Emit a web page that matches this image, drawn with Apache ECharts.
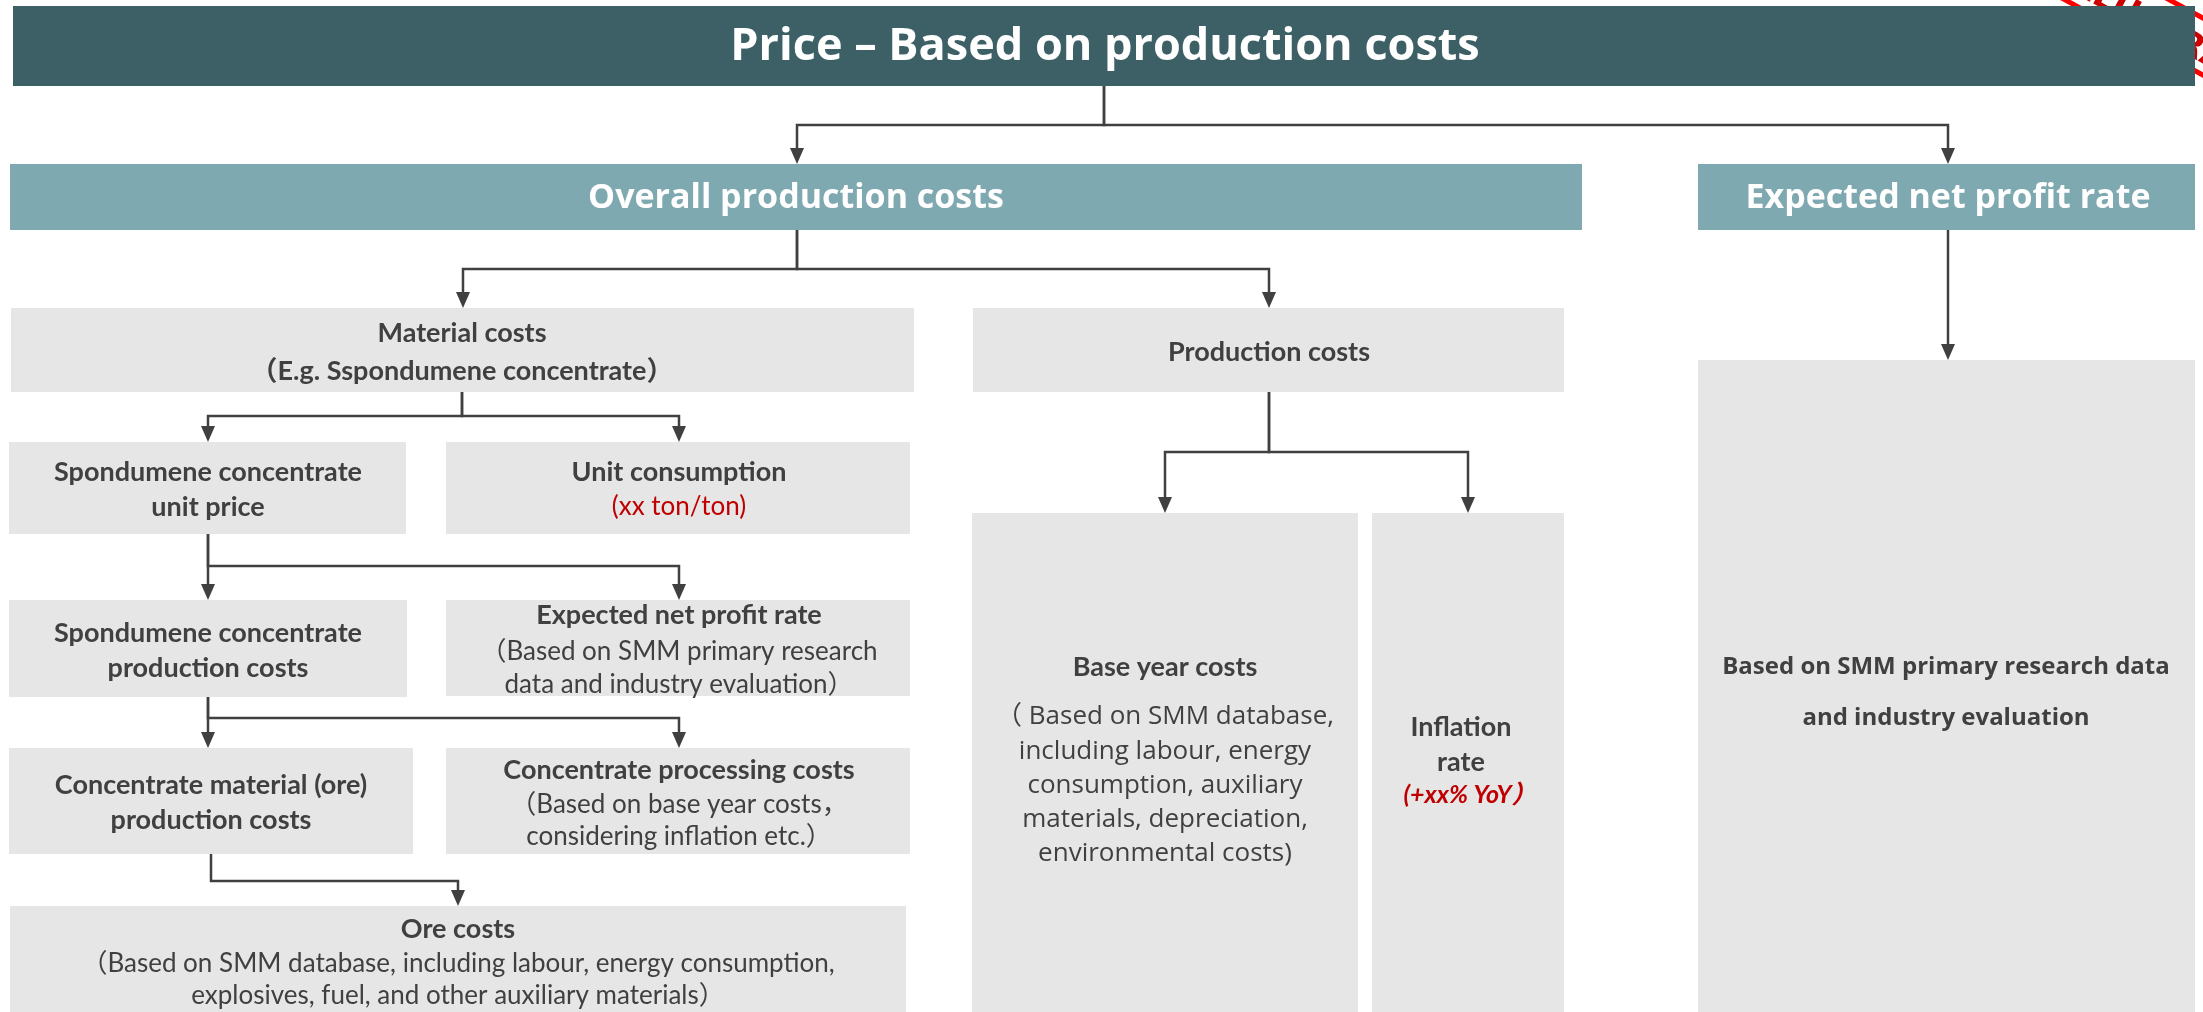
<!DOCTYPE html>
<html>
<head>
<meta charset="utf-8">
<script src="https://cdn.jsdelivr.net/npm/echarts@6/dist/echarts.min.js"></script>
<style>
  html, body { margin: 0; padding: 0; background: #fff; }
  #chart { width: 2203px; height: 1012px; }
</style>
</head>
<body>
<div id="chart"></div>
<script>
// ---- texts ----
const titleText = "Price – Based on production costs";
const headerTexts = ["Overall production costs", "Expected net profit rate"];
const stampText = "ILLUSTRATION";

// one entry per grey box: bold lines, then note lines
const boldLines = [
  ["Material costs", "（E.g. Sspondumene concentrate）"],
  ["Spondumene concentrate", "unit price"],
  ["Unit consumption"],
  ["Spondumene concentrate", "production costs"],
  ["Expected net profit rate"],
  ["Concentrate material (ore)", "production costs"],
  ["Concentrate processing costs"],
  ["Ore costs"],
  ["Production costs"],
  ["Base year costs"],
  ["Inflation", "rate"],
  ["Based on SMM primary research data", "and industry evaluation"]
];
const noteLines = [
  [],
  [],
  ["(xx ton/ton)"],
  [],
  ["（Based on SMM primary research", "data and industry evaluation）"],
  [],
  ["（Based on base year costs，", "considering inflation etc.）"],
  ["（Based on SMM database, including labour, energy consumption,", "explosives, fuel, and other auxiliary materials）"],
  [],
  ["（ Based on SMM database,", "including labour, energy", "consumption, auxiliary", "materials, depreciation,", "environmental costs)"],
  ["(+xx% YoY）"],
  []
];

// ---- layout (pixels) ----
const GREY = "#E6E6E6", DARK = "#3D6066", TEAL = "#7FA9B0", INK = "#404040", RED = "#C00000";
const FONT = "Lato, 'Noto Sans CJK SC', sans-serif";
const FONT2 = "'Open Sans', 'Noto Sans CJK SC', sans-serif";

// [x, y, w, h, centerX, boldY[], noteY[], noteStyle]
const boxLayout = [
  [11, 308, 903, 84, 462, [333, 371], [], null],
  [9, 442, 397, 92, 208, [472, 507], [], null],
  [446, 442, 464, 92, 679, [472], [507], "red"],
  [9, 600, 398, 97, 208, [633, 668], [], null],
  [446, 600, 464, 96, 679, [615], [652, 685], "plain"],
  [9, 748, 404, 106, 211, [785, 820], [], null],
  [446, 748, 464, 106, 679, [770], [805, 837], "plain"],
  [10, 906, 896, 120, 458, [929], [964, 996], "plain"],
  [973, 308, 591, 84, 1269, [352], [], null],
  [972, 513, 386, 520, 1165, [667], [717, 752, 786, 820, 854], "sans"],
  [1372, 513, 192, 520, 1461, [727, 762], [795], "redItalic"],
  [1698, 360, 497, 660, 1946, [667, 718], [], "sansBold"]
];

// connectors: parent point, bus y, child arrow tips
const connectors = [
  [[1104, 86], 125, [[797, 164], [1948, 164]]],
  [[797, 230], 269, [[463, 308], [1269, 308]]],
  [[1948, 230], null, [[1948, 360]]],
  [[462, 392], 416, [[208, 442], [679, 442]]],
  [[208, 534], 566, [[208, 600], [679, 600]]],
  [[208, 697], 718, [[208, 748], [679, 748]]],
  [[211, 854], 881, [[458, 906]]],
  [[1269, 392], 452, [[1165, 513], [1468, 513]]]
];

const elements = [];

function text(str, x, y, font, fill, z) {
  return {
    type: "text", z: z || 10,
    style: { text: str, x: x, y: y, font: font, fill: fill, textAlign: "center", textVerticalAlign: "middle", verticalAlign: "middle" }
  };
}

// title bar
elements.push({ type: "rect", z: 1, shape: { x: 13, y: 6, width: 2182, height: 80 }, style: { fill: DARK } });
elements.push(text(titleText, 1105, 47, "bold 45px " + FONT2, "#fff"));

// header boxes
elements.push({ type: "rect", z: 1, shape: { x: 10, y: 164, width: 1572, height: 66 }, style: { fill: TEAL } });
elements.push(text(headerTexts[0], 796, 198, "bold 34px " + FONT2, "#fff"));
elements.push({ type: "rect", z: 1, shape: { x: 1698, y: 164, width: 497, height: 66 }, style: { fill: TEAL } });
elements.push(text(headerTexts[1], 1948, 198, "bold 34px " + FONT2, "#fff"));

// grey boxes
boxLayout.forEach(function (b, i) {
  elements.push({ type: "rect", z: 1, shape: { x: b[0], y: b[1], width: b[2], height: b[3] }, style: { fill: GREY } });
  const boldFont = b[7] === "sansBold" ? "bold 24px " + FONT2 : "bold 27px " + FONT;
  boldLines[i].forEach(function (s, k) {
    elements.push(text(s, b[4], b[5][k], boldFont, INK));
  });
  noteLines[i].forEach(function (s, k) {
    let font = "26px " + FONT, fill = INK, cx = b[4];
    if (b[7] === "red") fill = RED;
    if (b[7] === "sans") font = "26px " + FONT2;
    if (b[7] === "redItalic") { font = "italic bold 25px " + FONT; fill = RED; cx = b[4] + 9; }
    elements.push(text(s, cx, b[6][k], font, fill));
  });
});

// connectors with arrow heads
const AW = 7, AL = 16;
connectors.forEach(function (c) {
  const p = c[0], busY = c[1];
  c[2].forEach(function (t) {
    const pts = busY === null
      ? [[p[0], p[1]], [t[0], t[1] - AL]]
      : [[p[0], p[1]], [p[0], busY], [t[0], busY], [t[0], t[1] - AL]];
    elements.push({ type: "polyline", z: 5, shape: { points: pts }, style: { stroke: INK, lineWidth: 2.5, fill: null } });
    elements.push({ type: "polygon", z: 5, shape: { points: [[t[0] - AW, t[1] - AL], [t[0] + AW, t[1] - AL], [t[0], t[1]]] }, style: { fill: INK } });
  });
});

// red stamp in the corner (mostly cut off by the page edge)
elements.push({
  type: "group", x: 2183, y: 46, rotation: -0.5, z: 20,
  children: [
    { type: "rect", shape: { x: -200, y: -34, width: 400, height: 50 }, style: { fill: null, stroke: "#FF0000", lineWidth: 5 } },
    { type: "text", style: { text: stampText, x: 0, y: -3, font: "bold 34px 'DejaVu Sans', sans-serif", fill: "#CC0000", textAlign: "center", textVerticalAlign: "middle", verticalAlign: "middle" } }
  ]
});

const chart = echarts.init(document.getElementById("chart"), null, { renderer: "canvas" });
chart.setOption({
  animation: false,
  backgroundColor: "#fff",
  graphic: { elements: elements }
});
</script>
</body>
</html>
